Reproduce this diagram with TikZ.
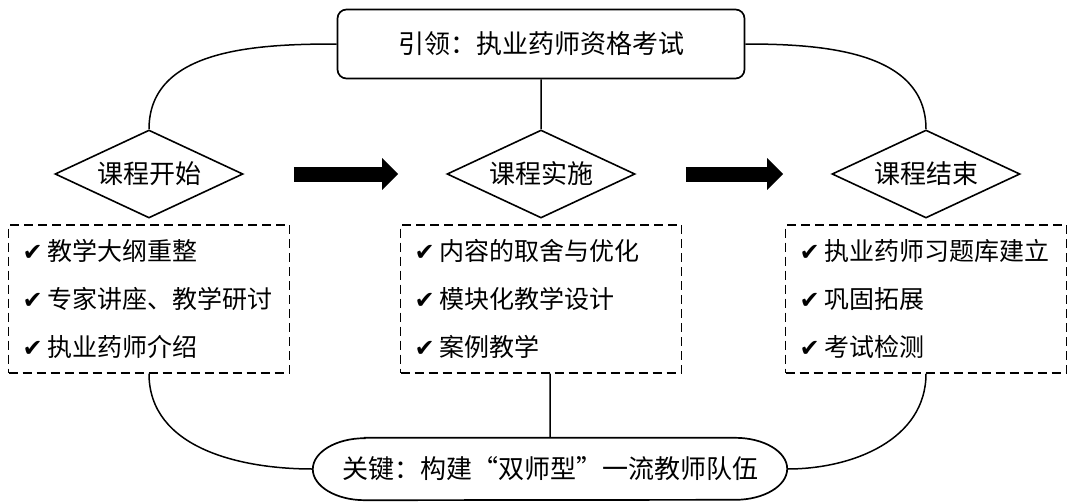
\documentclass[tikz,border=0pt]{standalone}
\usepackage{fontspec}
\setmainfont{Noto Sans CJK SC}
\newfontfamily\symfont{DejaVu Sans}
\usetikzlibrary{arrows.meta, shapes.geometric, calc, positioning}
\newcommand{\tick}{{\symfont\fontsize{24}{24}\selectfont ✔}\hspace{5pt}}
\newcommand{\stage}[3]{
    \node[draw, diamond, aspect=2.14, inner sep=0pt, minimum width=188pt, minimum height=88pt, line width=1.6pt, font=\fontsize{26}{26}\selectfont] (#1) at (#2) {#3};
}
\newcommand{\tasklist}[3]{
    \node[draw, dash pattern=on 9pt off 5pt, line width=1.8pt, minimum width=281pt, minimum height=148pt, text width=253pt, align=left, inner sep=0pt, font=\fontsize{25}{48}\selectfont, below=5pt of #2] (#1) {#3};
}
\newcommand{\bigarrow}[2]{
    \draw[line width=15pt, -{Triangle[length=16pt, width=31pt]}, shorten <=50pt, shorten >=48pt] (#1.east) -- (#2.west);
}

\begin{document}
\begin{tikzpicture}[x=1pt, y=1pt]
                    \useasboundingbox (0, 0) rectangle (1074, -501);
                    \node[draw, rounded corners=9pt, line width=1.7pt, minimum width=407pt, minimum height=69pt, font=\fontsize{26}{26}\selectfont] (lead) at (541, -44) {引领：执业药师资格考试};
                    \stage{start}{149, -174}{课程开始}
                    \stage{impl}{541, -174}{课程实施}
                    \stage{finish}{926, -174}{课程结束}
                    \tasklist{startlist}{start}{\tick 教学大纲重整\\ \tick 专家讲座、教学研讨\\ \tick 执业药师介绍}
                    \tasklist{impllist}{impl}{\tick 内容的取舍与优化\\ \tick 模块化教学设计\\ \tick 案例教学}
                    \tasklist{finishlist}{finish}{\tick 执业药师习题库建立\\ \tick 巩固拓展\\ \tick 考试检测}
                    \bigarrow{start}{impl}
                    \bigarrow{impl}{finish}
                    \node[minimum width=474pt, minimum height=62pt, inner sep=0pt, font=\fontsize{26}{26}\selectfont] (key) at (550, -469) {关键：构建“双师型”一流教师队伍};
                    \draw[line width=1.7pt]
                    ([xshift=52pt]key.north west) -- ([xshift=-52pt]key.north east)
                    arc[start angle=90, end angle=-90, x radius=52pt, y radius=31pt]
                    -- ([xshift=52pt]key.south west)
                    arc[start angle=270, end angle=90, x radius=52pt, y radius=31pt] -- cycle;
                    \draw[line width=1.5pt]
                    (lead.west) to[out=180, in=90] (start.north)
                    (lead.east) to[out=0, in=90] (finish.north)
                    (lead.south) -- (impl.north)
                    (startlist.south) to[out=-90, in=180] (key.west)
                    (finishlist.south) to[out=-90, in=0] (key.east)
                    (key.north) -- (key.north |- impllist.south);
                \end{tikzpicture}
\end{document}
